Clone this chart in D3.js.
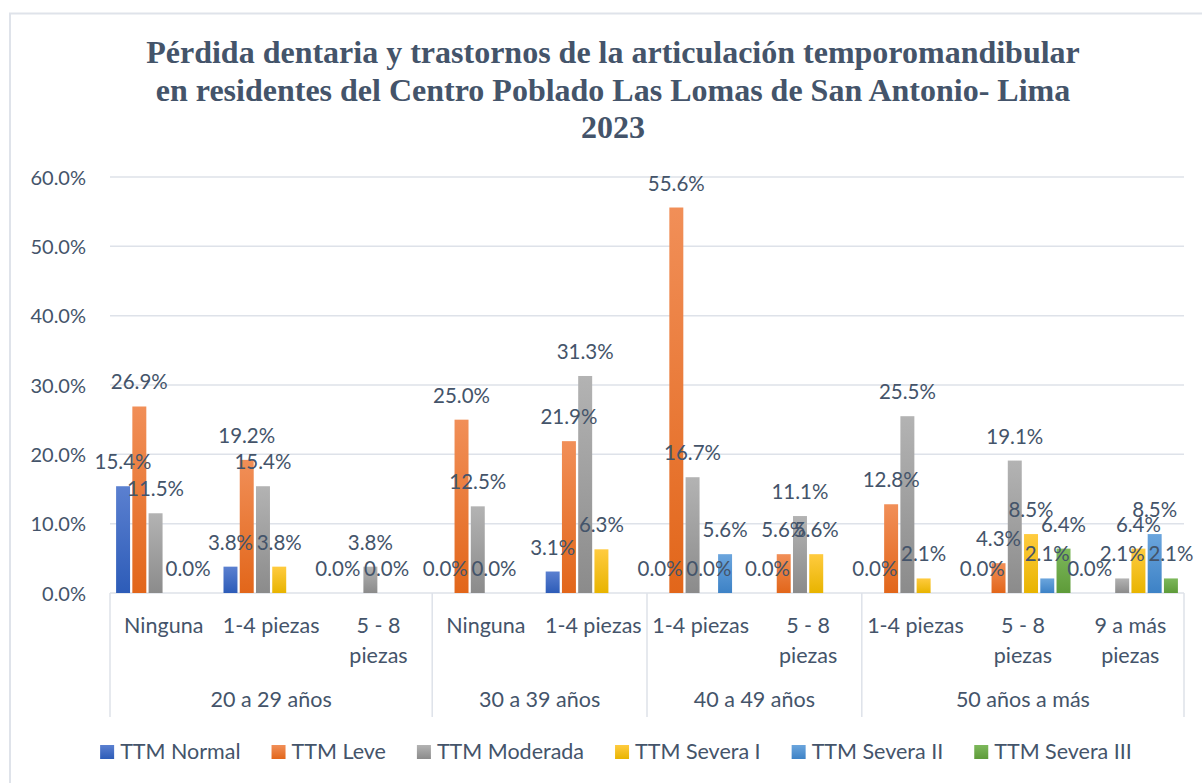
<!DOCTYPE html>
<html>
<head>
<meta charset="utf-8">
<script src="https://cdn.jsdelivr.net/npm/d3@7"></script>
<style>
  body{margin:0;background:#fff;}
  text{font-family:Lato,"Noto Sans",sans-serif;fill:#44546a;}
  .title{font-family:"Liberation Serif","Times New Roman",serif;font-weight:bold;}
</style>
</head>
<body>
<div id="chart"></div>
<script>
var titleLines=[
  "Pérdida dentaria y trastornos de la articulación temporomandibular",
  "en residentes del Centro Poblado Las Lomas de San Antonio- Lima",
  "2023"
];
var groups=["20 a 29 años","30 a 39 años","40 a 49 años","50 años a más"];
var groupSize=[3,2,2,3];
var subcats=["Ninguna","1-4 piezas","5 - 8 piezas","Ninguna","1-4 piezas","1-4 piezas","5 - 8 piezas","1-4 piezas","5 - 8 piezas","9 a más piezas"];
var seriesNames=["TTM Normal","TTM Leve","TTM Moderada","TTM Severa I","TTM Severa II","TTM Severa III"];
// null = sin dato (no bar, no label)
var ttmNormal=[15.4,3.8,0.0,0.0,3.1,0.0,0.0,0.0,0.0,0.0];
var ttmLeve=[26.9,19.2,null,25.0,21.9,55.6,5.6,12.8,4.3,null];
var ttmModerada=[11.5,15.4,3.8,12.5,31.3,16.7,11.1,25.5,19.1,2.1];
var ttmSeveraI=[null,3.8,0.0,0.0,6.3,0.0,5.6,2.1,8.5,6.4];
var ttmSeveraII=[0.0,null,null,null,null,5.6,null,null,2.1,8.5];
var ttmSeveraIII=[null,null,null,null,null,null,null,null,6.4,2.1];
var yTicks=[0,10,20,30,40,50,60];

var seriesValues=[ttmNormal,ttmLeve,ttmModerada,ttmSeveraI,ttmSeveraII,ttmSeveraIII];
var colorsTop=["#5b80d0","#f18f58","#b3b3b3","#ffcb3f","#6ba5dd","#7db85b"];
var colorsBottom=["#2d5cb8","#e2661a","#8b8b8b","#e8b400","#3d82c6","#5e9b39"];

var wide=1202;
var high=783;
var plotLeft=110;
var plotRight=1184;
var plotTop=177;
var plotBottom=593;
var fs=21.5;

var svg=d3
  .select("#chart")
  .append("svg")
  .attr("width",wide)
  .attr("height",high);

svg.append("rect")
  .attr("x",10)
  .attr("y",13.5)
  .attr("width",1300)
  .attr("height",900)
  .attr("fill","none")
  .attr("stroke","#dfe3ea")
  .attr("stroke-width",2);

var defs=svg.append("defs");
seriesNames.forEach(function(s,i){
  var g=defs.append("linearGradient")
    .attr("id","grad"+i)
    .attr("x1",0).attr("y1",0).attr("x2",0).attr("y2",1);
  g.append("stop").attr("offset","0%").attr("stop-color",colorsTop[i]);
  g.append("stop").attr("offset","100%").attr("stop-color",colorsBottom[i]);
});

var title=svg.append("text")
  .attr("class","title")
  .attr("text-anchor","middle")
  .attr("font-size",32);
titleLines.forEach(function(t,i){
  title.append("tspan")
    .attr("x",613)
    .attr("y",63+i*37.5)
    .text(t);
});

var yscale=d3.scaleLinear()
  .domain([0,60])
  .range([plotBottom,plotTop]);

var xscale=d3.scaleBand()
  .domain(d3.range(subcats.length))
  .range([plotLeft,plotRight])
  .padding(0);

var inner=d3.scaleBand()
  .domain(d3.range(seriesNames.length))
  .range([0,xscale.bandwidth()])
  .paddingInner(0.14)
  .paddingOuter(0.375);

// gridlines
svg.append("g")
  .selectAll("line")
  .data(yTicks)
  .enter()
  .append("line")
  .attr("x1",plotLeft)
  .attr("x2",plotRight)
  .attr("y1",function(d){return yscale(d);})
  .attr("y2",function(d){return yscale(d);})
  .attr("stroke","#dee2e9")
  .attr("stroke-width",1.5);

var yaxis=d3.axisLeft(yscale)
  .tickValues(yTicks)
  .tickSize(0)
  .tickPadding(0)
  .tickFormat(function(d){return d.toFixed(1)+"%";});
var yg=svg.append("g")
  .attr("transform","translate(86,0)")
  .call(yaxis);
yg.select(".domain").remove();
yg.selectAll("text")
  .attr("font-size",20)
  .attr("fill","#44546a")
  .attr("font-family","Lato")
  .attr("dy","0.35em");

// bars
var flat=[];
seriesValues.forEach(function(vals,si){
  vals.forEach(function(v,ci){
    if (v!==null){
      flat.push({s:si,c:ci,v:v});
    }
  });
});

svg.append("g")
  .selectAll("rect")
  .data(flat)
  .enter()
  .append("rect")
  .attr("x",function(d){return xscale(d.c)+inner(d.s);})
  .attr("y",function(d){return yscale(d.v);})
  .attr("width",inner.bandwidth())
  .attr("height",function(d){return plotBottom-yscale(d.v);})
  .attr("fill",function(d){return "url(#grad"+d.s+")";});

svg.append("g")
  .selectAll("text")
  .data(flat)
  .enter()
  .append("text")
  .attr("x",function(d){return xscale(d.c)+inner(d.s)+inner.bandwidth()/2;})
  .attr("y",function(d){return yscale(d.v)-17;})
  .attr("text-anchor","middle")
  .attr("font-size",20.5)
  .text(function(d){return d.v.toFixed(1)+"%";});

// category axis
var xg=svg.append("g");
var starts=[0];
groupSize.forEach(function(n,i){starts.push(starts[i]+n);});
var sepX=starts.map(function(k){
  return k<subcats.length?xscale(k):plotRight;
});
xg.selectAll("line")
  .data(sepX)
  .enter()
  .append("line")
  .attr("x1",function(d){return d;})
  .attr("x2",function(d){return d;})
  .attr("y1",plotBottom)
  .attr("y2",717)
  .attr("stroke","#dee2e9")
  .attr("stroke-width",1.5);

function wrapLines(txt,maxW){
  var probe=svg.append("text").attr("font-size",fs);
  var words=txt.split(" ");
  var lines=[];
  var cur="";
  words.forEach(function(w){
    var test=cur?cur+" "+w:w;
    probe.text(test);
    if (cur && probe.node().getComputedTextLength()>maxW){
      lines.push(cur);
      cur=w;
    }
    else{
      cur=test;
    }
  });
  lines.push(cur);
  probe.remove();
  return lines;
}

subcats.forEach(function(name,i){
  var t=xg.append("text")
    .attr("text-anchor","middle")
    .attr("font-size",fs);
  wrapLines(name,104).forEach(function(l,k){
    t.append("tspan")
      .attr("x",xscale(i)+xscale.bandwidth()/2)
      .attr("y",633+k*30)
      .text(l);
  });
});

groups.forEach(function(g,i){
  xg.append("text")
    .attr("x",(sepX[i]+sepX[i+1])/2)
    .attr("y",707)
    .attr("text-anchor","middle")
    .attr("font-size",fs)
    .text(g);
});

// legend
var legend=svg.append("g");
var items=legend.selectAll("g")
  .data(seriesNames)
  .enter()
  .append("g");
items.append("rect")
  .attr("width",14)
  .attr("height",14)
  .attr("y",745)
  .attr("fill",function(d,i){return "url(#grad"+i+")";});
items.append("text")
  .attr("x",20)
  .attr("y",759)
  .attr("font-size",fs)
  .text(function(d){return d;});
var widths=[];
items.each(function(){
  widths.push(20+d3.select(this).select("text").node().getComputedTextLength());
});
var gap=31;
var total=d3.sum(widths)+gap*(widths.length-1);
var pos=616-total/2;
items.attr("transform",function(d,i){
  var x=pos;
  pos+=widths[i]+gap;
  return "translate("+x+",0)";
});
</script>
</body>
</html>
